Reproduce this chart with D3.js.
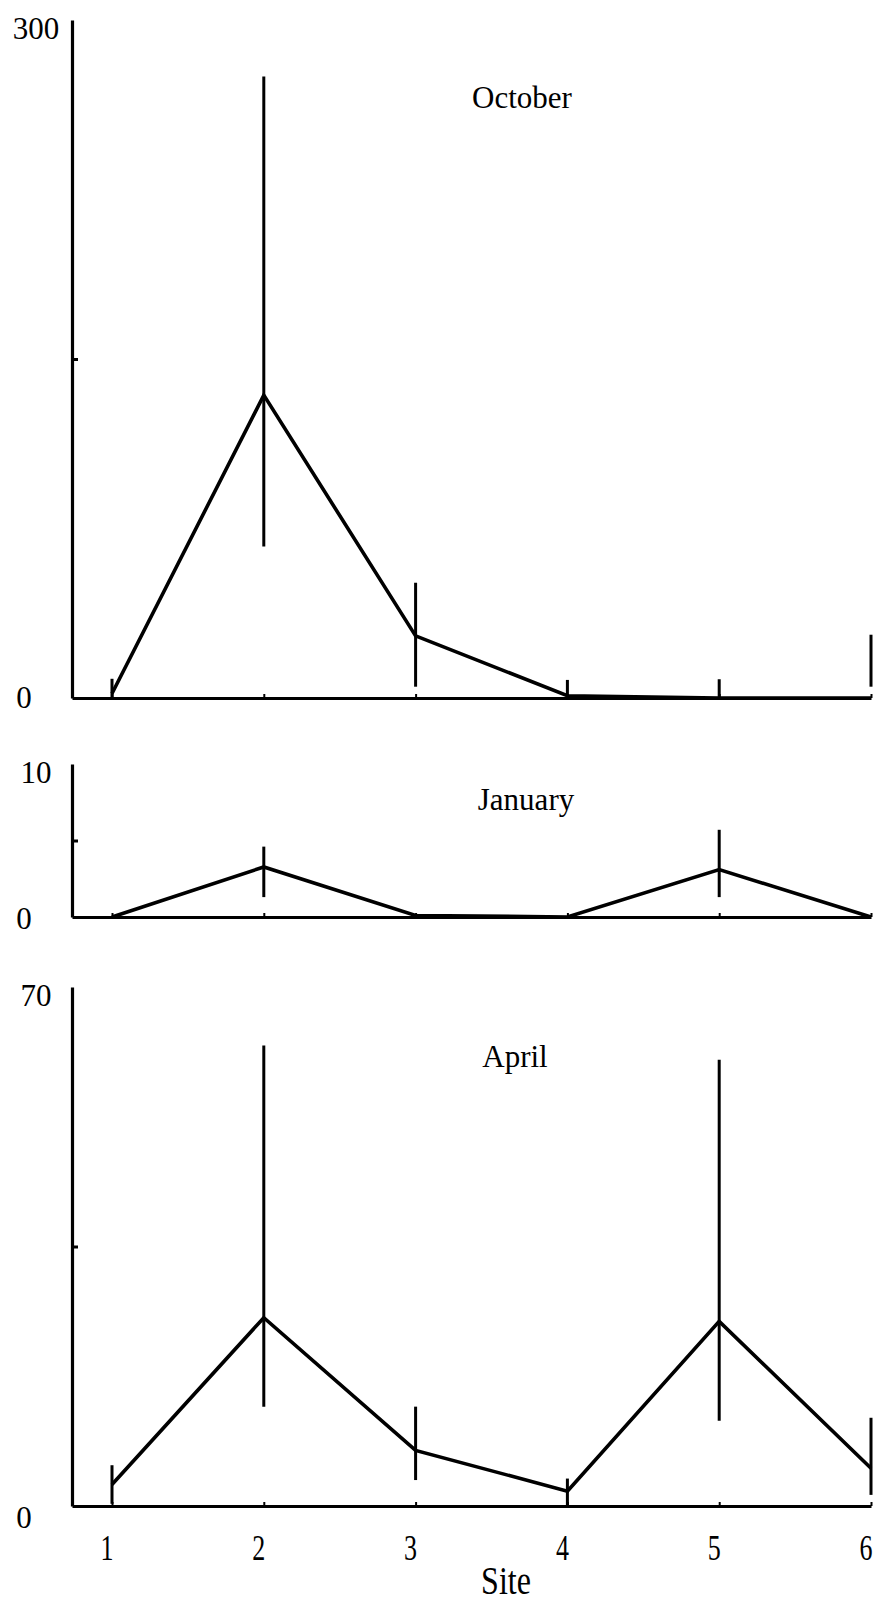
<!DOCTYPE html>
<html><head><meta charset="utf-8">
<script src="https://cdn.jsdelivr.net/npm/d3@7"></script>
<style>
body{margin:0;background:#fff}
svg{display:block}
text{font-family:"Liberation Serif","Times New Roman",serif;fill:#000}
</style>
</head><body><script>
// ---- data ----
const sites = [1, 2, 3, 4, 5, 6];
const xTickLabels = ["1", "2", "3", "4", "5", "6"];
const xTitle = "Site";
const panelTitles = ["October", "January", "April"];
const yMaxValues = [300, 10, 70];

const octMean = [2, 134, 27.5, 1, 0, 0];
const octLow  = [0, 67, 5, 0, 0, 5];
const octHigh = [8.5, 275, 51, 8, 8.3, 28];

const janMean = [0, 3.27, 0.1, 0, 3.1, 0];
const janLow  = [0, 1.3, 0.1, 0, 1.3, 0];
const janHigh = [0, 4.6, 0.1, 0, 5.7, 0];

const aprMean = [2.9, 25.4, 7.5, 2.0, 24.9, 5.1];
const aprLow  = [0.3, 13.4, 3.5, 0, 11.5, 1.5];
const aprHigh = [5.5, 62.1, 13.4, 3.7, 60.2, 11.9];

const seriesMeans = [octMean, janMean, aprMean];
const seriesLows = [octLow, janLow, aprLow];
const seriesHighs = [octHigh, janHigh, aprHigh];

// ---- layout ----
const W = 880, H = 1603;
const axisX = 72;
const x = d3.scaleLinear().domain([1, 6]).range([112, 871]);
const layout = [
  {zero: 698, top: 20, titleX: 522, titleY: 108, zeroLabelDy: 10},
  {zero: 917, top: 764, titleX: 526, titleY: 810, zeroLabelDy: 12},
  {zero: 1506, top: 987, titleX: 515, titleY: 1067, zeroLabelDy: 22}
];

const svg = d3.select("body").append("svg").attr("width", W).attr("height", H);

layout.forEach((L, i) => {
  const yMax = yMaxValues[i];
  const y = d3.scaleLinear().domain([0, yMax]).range([L.zero, L.top]);
  const g = svg.append("g");

  // x axis (line from y-axis to site 6, tiny ticks at sites)
  const xa = d3.scaleLinear().domain([x.invert(axisX), 6]).range([axisX, x(6)]);
  const gx = g.append("g").attr("transform", `translate(0,${L.zero})`)
    .call(d3.axisBottom(xa).tickValues(sites).tickSize(-4).tickSizeOuter(0).tickFormat(""));
  gx.select(".domain").attr("stroke", "#000").attr("stroke-width", 3.2);
  gx.selectAll(".tick line").attr("stroke", "#000").attr("stroke-width", 2);

  // y axis with a single mid tick pointing inward
  const gy = g.append("g").attr("transform", `translate(${axisX},0)`)
    .call(d3.axisLeft(y).tickValues([yMax / 2]).tickSize(-6).tickSizeOuter(0).tickFormat(""));
  gy.select(".domain").attr("stroke", "#000").attr("stroke-width", 3.2);
  gy.selectAll(".tick line").attr("stroke", "#000").attr("stroke-width", 3);

  // y labels
  g.append("text").attr("x", 36).attr("y", y(yMax) + 19)
    .attr("text-anchor", "middle").attr("font-size", 31).text(String(yMax));
  g.append("text").attr("x", 24).attr("y", y(0) + L.zeroLabelDy)
    .attr("text-anchor", "middle").attr("font-size", 31).text("0");

  // title
  g.append("text").attr("x", L.titleX).attr("y", L.titleY)
    .attr("text-anchor", "middle").attr("font-size", 31).text(panelTitles[i]);

  const data = sites.map((s, k) => ({site: s, mean: seriesMeans[i][k], lo: seriesLows[i][k], hi: seriesHighs[i][k]}));

  // error bars
  g.selectAll("line.err").data(data.filter(d => d.hi > d.lo)).join("line")
    .attr("class", "err")
    .attr("x1", d => x(d.site)).attr("x2", d => x(d.site))
    .attr("y1", d => y(d.lo)).attr("y2", d => y(d.hi))
    .attr("stroke", "#000").attr("stroke-width", 3);

  // mean line
  g.append("path").datum(data)
    .attr("d", d3.line().x(d => x(d.site)).y(d => y(d.mean)))
    .attr("fill", "none").attr("stroke", "#000").attr("stroke-width", 3.6)
    .attr("stroke-linejoin", "miter");

  // bottom labels only on last panel
  if (i === layout.length - 1) {
    sites.forEach((s, k) => {
      g.append("text")
        .attr("transform", `translate(${x(s) - 5},1560) scale(1,1.4)`)
        .attr("text-anchor", "middle").attr("font-size", 26).text(xTickLabels[k]);
    });
    g.append("text")
      .attr("transform", `translate(506,1594) scale(1,1.25)`)
      .attr("text-anchor", "middle").attr("font-size", 32).text(xTitle);
  }
});
</script></body></html>
